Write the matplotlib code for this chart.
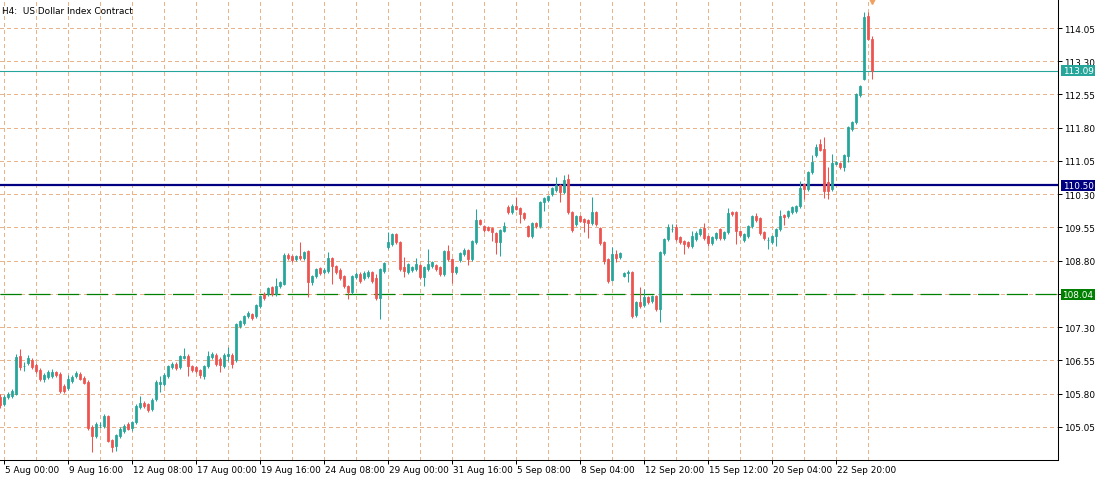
import numpy as np
import matplotlib
matplotlib.use("Agg")
import matplotlib.pyplot as plt
from matplotlib.patches import Rectangle
import matplotlib.transforms as mtransforms

# =============================
# DATA (H4 bars, left to right)
# =============================
opens = [
    105.72, 105.56, 105.72, 105.74, 105.79, 106.65, 106.42, 106.49, 106.55, 106.44,
    106.33, 106.13, 106.17, 106.19, 106.28, 106.24, 105.97, 105.92, 106.08, 106.19,
    106.24, 106.15, 106.06, 105.04, 104.84, 105.09, 105.06, 105.29, 104.75, 104.61,
    104.84, 104.95, 105.11, 105.02, 105.16, 105.50, 105.59, 105.56, 105.45, 105.68,
    106.01, 106.01, 106.19, 106.40, 106.47, 106.40, 106.60, 106.65, 106.42, 106.40,
    106.33, 106.19, 106.42, 106.62, 106.67, 106.58, 106.42, 106.65, 106.67, 106.55,
    107.32, 107.39, 107.55, 107.59, 107.55, 107.78, 108.05, 108.05, 108.20, 108.05,
    108.22, 108.27, 108.93, 108.90, 108.84, 108.90, 108.86, 109.02, 108.32, 108.45,
    108.63, 108.54, 108.56, 108.86, 108.68, 108.59, 108.45, 108.22, 108.09, 108.43,
    108.50, 108.41, 108.45, 108.54, 108.41, 107.96, 108.56, 109.11, 109.17, 109.40,
    109.22, 108.66, 108.54, 108.59, 108.61, 108.70, 108.43, 108.61, 108.68, 108.70,
    108.66, 108.50, 109.02, 108.84, 108.54, 108.81, 108.95, 109.04, 108.84, 109.22,
    109.72, 109.58, 109.56, 109.54, 109.42, 109.22, 109.47, 110.01, 109.90, 110.03,
    109.99, 109.88, 109.58, 109.35, 109.65, 109.58, 110.12, 110.17, 110.30, 110.39,
    110.51, 110.35, 110.64, 109.90, 109.63, 109.81, 109.74, 109.72, 109.65, 109.90,
    109.54, 109.22, 108.84, 108.36, 108.95, 108.88, 108.45, 108.52, 108.54, 107.57,
    107.87, 107.80, 107.98, 107.89, 108.00, 107.71, 108.97, 109.29, 109.51, 109.56,
    109.33, 109.24, 109.22, 109.13, 109.29, 109.40, 109.54, 109.35, 109.20, 109.31,
    109.51, 109.31, 109.45, 109.90, 109.90, 109.47, 109.26, 109.35, 109.58, 109.81,
    109.76, 109.45, 109.26, 109.22, 109.35, 109.51, 109.83, 109.81, 109.90, 109.92,
    110.03, 110.53, 110.42, 110.80, 111.18, 111.43, 111.32, 110.57, 110.42, 110.98,
    111.00, 110.91, 111.16, 111.77, 111.93, 112.54, 112.90, 114.32, 113.80,
]
highs = [
    105.79, 105.77, 105.83, 105.90, 106.69, 106.80, 106.51, 106.67, 106.60, 106.49,
    106.38, 106.26, 106.33, 106.35, 106.31, 106.28, 106.02, 106.22, 106.22, 106.31,
    106.28, 106.19, 106.10, 105.09, 105.16, 105.16, 105.34, 105.32, 104.77, 104.88,
    105.04, 105.11, 105.16, 105.18, 105.56, 105.74, 105.63, 105.59, 105.70, 106.10,
    106.19, 106.26, 106.44, 106.51, 106.51, 106.67, 106.83, 106.69, 106.44, 106.42,
    106.35, 106.44, 106.76, 106.74, 106.72, 106.62, 106.72, 106.85, 106.72, 107.39,
    107.46, 107.57, 107.66, 107.62, 107.82, 108.02, 108.09, 108.20, 108.22, 108.41,
    108.34, 108.97, 108.97, 108.93, 108.93, 109.22, 109.02, 109.04, 108.47, 108.63,
    108.66, 108.63, 108.99, 108.88, 108.70, 108.63, 108.47, 108.25, 108.47, 108.54,
    108.54, 108.56, 108.59, 108.56, 108.50, 108.63, 108.77, 109.45, 109.42, 109.42,
    109.24, 108.88, 108.75, 108.68, 108.86, 108.72, 108.68, 109.06, 108.79, 108.72,
    108.68, 109.04, 109.15, 108.86, 108.68, 108.99, 109.08, 109.06, 109.26, 109.96,
    109.74, 109.60, 109.58, 109.56, 109.45, 109.51, 109.67, 110.06, 110.08, 110.24,
    110.01, 109.90, 109.60, 109.67, 109.67, 110.15, 110.24, 110.28, 110.46, 110.69,
    110.53, 110.73, 110.76, 109.92, 109.83, 109.83, 109.76, 109.74, 110.24, 109.92,
    109.56, 109.24, 108.86, 109.11, 109.04, 108.99, 108.54, 108.59, 108.56, 107.89,
    108.20, 108.16, 108.00, 108.02, 108.02, 109.02, 109.31, 109.63, 109.63, 109.63,
    109.35, 109.26, 109.24, 109.47, 109.47, 109.54, 109.65, 109.38, 109.35, 109.45,
    109.54, 109.47, 109.99, 109.92, 109.92, 109.49, 109.42, 109.60, 109.83, 109.88,
    109.79, 109.47, 109.33, 109.38, 109.54, 109.94, 109.85, 109.94, 110.03, 110.06,
    110.60, 110.55, 110.82, 111.18, 111.43, 111.54, 111.59, 110.91, 111.20, 111.05,
    111.02, 111.20, 111.84, 111.95, 112.58, 112.76, 114.41, 114.41, 113.87,
]
lows = [
    105.47, 105.52, 105.68, 105.70, 105.77, 106.33, 106.31, 106.44, 106.35, 106.26,
    106.08, 106.06, 106.13, 106.15, 106.17, 105.81, 105.81, 105.88, 106.04, 106.15,
    106.10, 106.01, 104.97, 104.48, 104.79, 105.02, 105.02, 104.70, 104.48, 104.50,
    104.79, 104.90, 104.97, 104.95, 105.11, 105.45, 105.47, 105.38, 105.40, 105.63,
    105.83, 105.97, 106.15, 106.35, 106.33, 106.35, 106.58, 106.19, 106.28, 106.26,
    106.15, 106.13, 106.38, 106.58, 106.42, 106.28, 106.38, 106.53, 106.38, 106.51,
    107.28, 107.35, 107.50, 107.46, 107.50, 107.73, 107.91, 108.00, 108.00, 108.00,
    108.18, 108.25, 108.81, 108.77, 108.79, 108.81, 108.81, 107.98, 108.25, 108.41,
    108.47, 108.50, 108.52, 108.27, 108.50, 108.36, 108.18, 107.93, 108.05, 108.38,
    108.29, 108.36, 108.41, 108.29, 107.91, 107.48, 108.52, 109.06, 109.13, 109.17,
    108.56, 108.43, 108.50, 108.54, 108.56, 108.38, 108.22, 108.56, 108.63, 108.56,
    108.45, 108.45, 108.79, 108.29, 108.50, 108.77, 108.90, 108.70, 108.79, 109.17,
    109.60, 109.44, 109.47, 109.24, 108.95, 108.90, 109.44, 109.85, 109.85, 109.94,
    109.65, 109.72, 109.33, 109.31, 109.54, 109.54, 109.92, 110.12, 110.26, 110.35,
    110.12, 110.30, 109.85, 109.44, 109.58, 109.67, 109.44, 109.31, 109.60, 109.58,
    109.15, 108.72, 108.29, 108.34, 108.77, 108.84, 108.43, 108.32, 107.50, 107.53,
    107.73, 107.75, 107.82, 107.85, 107.66, 107.41, 108.93, 109.24, 109.44, 109.24,
    109.17, 108.95, 109.08, 109.08, 109.24, 109.35, 109.26, 109.13, 109.15, 109.26,
    109.26, 109.26, 109.40, 109.81, 109.17, 109.33, 109.22, 109.31, 109.54, 109.67,
    109.38, 109.26, 109.06, 109.17, 109.13, 109.47, 109.60, 109.76, 109.85, 109.88,
    109.99, 110.19, 110.37, 110.76, 111.14, 111.27, 110.21, 110.19, 110.37, 110.96,
    110.87, 110.82, 111.02, 111.72, 111.88, 112.49, 112.88, 113.78, 112.90,
]
closes = [
    105.54, 105.72, 105.79, 105.86, 106.62, 106.40, 106.43, 106.60, 106.40, 106.31,
    106.13, 106.22, 106.28, 106.28, 106.22, 105.86, 105.86, 106.13, 106.17, 106.26,
    106.13, 106.04, 105.02, 104.84, 105.11, 105.10, 105.29, 104.73, 104.59, 104.86,
    105.00, 105.06, 105.00, 105.16, 105.52, 105.59, 105.52, 105.43, 105.65, 106.06,
    106.06, 106.22, 106.42, 106.47, 106.38, 106.65, 106.65, 106.42, 106.33, 106.31,
    106.22, 106.42, 106.65, 106.69, 106.47, 106.44, 106.67, 106.69, 106.47, 107.37,
    107.44, 107.55, 107.62, 107.50, 107.80, 108.00, 107.96, 108.18, 108.05, 108.22,
    108.32, 108.93, 108.86, 108.81, 108.90, 108.86, 108.99, 108.32, 108.45, 108.61,
    108.52, 108.59, 108.86, 108.68, 108.54, 108.41, 108.22, 108.09, 108.45, 108.50,
    108.34, 108.52, 108.54, 108.34, 107.96, 108.61, 108.74, 109.22, 109.40, 109.22,
    108.61, 108.56, 108.72, 108.66, 108.72, 108.43, 108.66, 108.72, 108.77, 108.61,
    108.50, 109.02, 108.84, 108.54, 108.66, 108.97, 109.04, 108.84, 109.24, 109.72,
    109.63, 109.49, 109.49, 109.44, 109.22, 109.49, 109.58, 109.90, 110.03, 109.96,
    109.85, 109.76, 109.35, 109.65, 109.58, 110.12, 110.21, 110.26, 110.44, 110.51,
    110.35, 110.62, 109.90, 109.49, 109.81, 109.70, 109.67, 109.65, 109.90, 109.63,
    109.20, 108.79, 108.34, 108.95, 108.86, 108.97, 108.52, 108.54, 107.55, 107.87,
    107.78, 107.98, 107.87, 108.00, 107.71, 108.99, 109.29, 109.56, 109.51, 109.29,
    109.22, 109.17, 109.13, 109.35, 109.42, 109.51, 109.31, 109.20, 109.33, 109.42,
    109.31, 109.45, 109.88, 109.85, 109.47, 109.38, 109.40, 109.58, 109.81, 109.72,
    109.42, 109.31, 109.27, 109.35, 109.51, 109.81, 109.79, 109.92, 110.01, 110.03,
    110.44, 110.42, 110.80, 111.02, 111.36, 111.30, 110.37, 110.37, 111.00, 111.02,
    110.91, 111.18, 111.81, 111.93, 112.56, 112.74, 114.30, 113.80, 113.09,
]

date_labels = [
    "5 Aug 00:00", "9 Aug 16:00", "12 Aug 08:00", "17 Aug 00:00", "19 Aug 16:00",
    "24 Aug 08:00", "29 Aug 00:00", "31 Aug 16:00", "5 Sep 08:00", "8 Sep 04:00",
    "12 Sep 20:00", "15 Sep 12:00", "20 Sep 04:00", "22 Sep 20:00",
]
price_ticks = [105.05, 105.80, 106.55, 107.30, 108.05, 108.80, 109.55,
               110.30, 111.05, 111.80, 112.55, 113.30, 114.05]

last_price = 113.09
resistance = 110.50
support = 108.04

TEAL = "#26a69a"
RED = "#ef5350"
GRID = "#e9b48c"
NAVY = "#000080"
GREEN = "#008000"
FONT = "DejaVu Sans"
FS = 6.4

# =============================
# FIGURE
# =============================
W, H = 1103, 481
fig = plt.figure(figsize=(W / 100, H / 100), dpi=100)
ax = fig.add_axes([0, 20 / H, 1058 / W, 461 / H])
ax.set_xlim(-0.05, 264.45)
ax.set_ylim(104.30, 114.705)

x = np.arange(len(opens))
o = np.array(opens)
hi = np.array(highs)
lo = np.array(lows)
c = np.array(closes)
cols = np.where(c >= o, TEAL, RED)

ax.vlines(x, lo, hi, colors=cols, lw=0.75, zorder=4)
ax.bar(x, np.maximum(np.abs(c - o), 0.004), bottom=np.minimum(o, c), width=0.55,
       color=cols, edgecolor=cols, lw=0.55, zorder=5)

# level lines
ax.axhline(last_price, color=TEAL, lw=0.8, zorder=3)
ax.axhline(resistance, color=NAVY, lw=1.6, zorder=3)
ax.axhline(support, color=GREEN, lw=0.9, ls=(0, (17, 6)), zorder=3)

# grid / ticks
ax.set_xticks(x[1::16])
ax.set_xticks(x[9::16], minor=True)
ax.set_xticklabels(date_labels)
ax.set_yticks(price_ticks)
ax.set_yticklabels([f"{p:.2f}" for p in price_ticks])
ax.grid(which="both", color=GRID, ls=(0, (3, 3)), lw=0.72, zorder=1,
        antialiased=False)
ax.set_axisbelow(True)

ax.yaxis.tick_right()
ax.tick_params(axis="y", length=2.9, width=0.72, pad=1.2, labelsize=FS)
ax.tick_params(axis="x", which="major", length=2.9, width=0.72, pad=0.8, labelsize=FS)
ax.tick_params(axis="x", which="minor", length=0)
offset = mtransforms.ScaledTranslation(1 / 100, 0, fig.dpi_scale_trans)
for lab in ax.get_xticklabels():
    lab.set_ha("left")
    lab.set_transform(lab.get_transform() + offset)
for lab in ax.get_xticklabels() + ax.get_yticklabels():
    lab.set_family(FONT)

for s in ["top", "left"]:
    ax.spines[s].set_visible(False)
for s in ["right", "bottom"]:
    ax.spines[s].set_linewidth(0.75)

# price boxes on the axis
trans = mtransforms.blended_transform_factory(ax.transAxes, ax.transData)
box_h = 10.5 / 44.31
for val, col in [(last_price, TEAL), (resistance, NAVY), (support, GREEN)]:
    ax.add_patch(Rectangle((1061 / 1058, val - box_h / 2), 34 / 1058, box_h,
                           transform=trans, facecolor=col, edgecolor="none",
                           clip_on=False, zorder=10))
    ax.text(1078 / 1058, val, f"{val:.2f}", transform=trans, ha="center",
            va="center", color="white", fontsize=FS, family=FONT,
            clip_on=False, zorder=11)

# marker at the top of the last bar
ax.plot(x[-1], 114.66, marker="v", color="#f0a060", ms=4.5, clip_on=False, zorder=6)

fig.text(2 / W, 1 - 12 / H, "H4:  US Dollar Index Contract", fontsize=FS,
         family=FONT, va="center", ha="left")

fig.savefig("out.png", dpi=100, facecolor="white")
